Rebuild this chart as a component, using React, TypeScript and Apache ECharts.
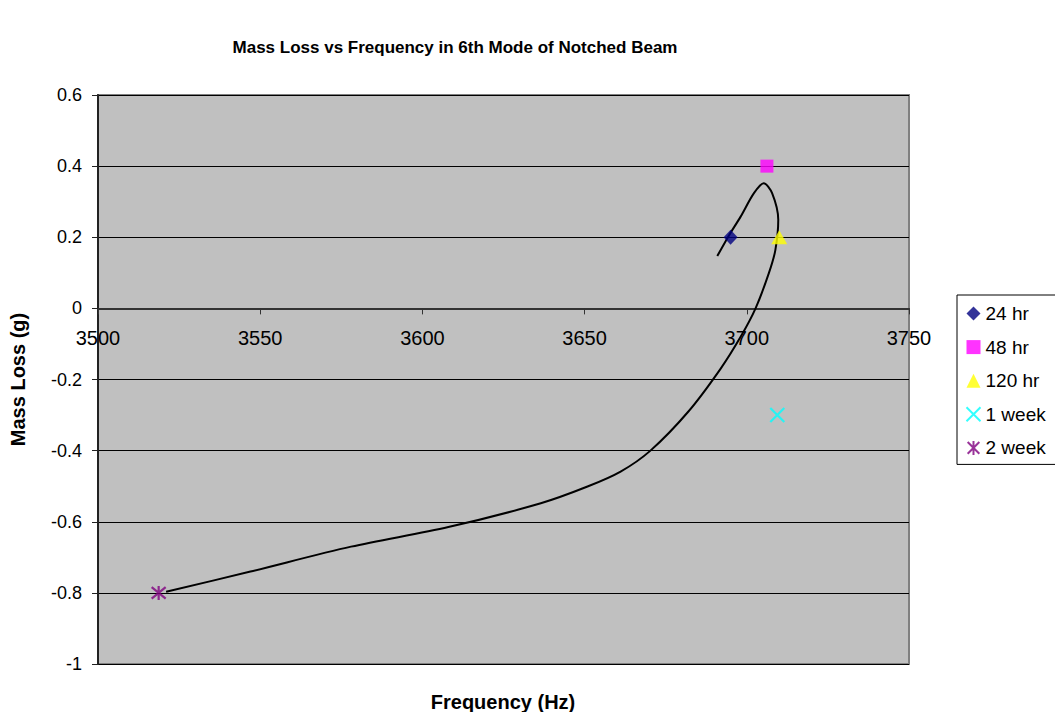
import React, { useEffect, useRef } from "react";
import * as echarts from "echarts";

const seriesNames = ["24 hr", "48 hr", "120 hr", "1 week", "2 week"];
const frequencies = [3695, 3706.2, 3710, 3709.4, 3518.7];
const massLoss = [0.2, 0.4, 0.2, -0.3, -0.8];
const colors = ["#000080", "#FF00FF", "#FFFF00", "#00FFFF", "#800080"];

// Smoothed fitted curve
const curveX = [3690.9, 3694.5, 3698.1, 3702.2, 3705.2, 3707.8, 3709.7, 3708.8, 3706.8, 3702.7, 3698.1, 3691.9, 3682, 3670.3, 3661.1, 3650.9, 3636.5, 3608, 3578, 3547, 3521];
const curveY = [0.147, 0.205, 0.258, 0.324, 0.352, 0.324, 0.249, 0.164, 0.099, 0.0, -0.08, -0.17, -0.29, -0.4, -0.459, -0.501, -0.548, -0.615, -0.67, -0.74, -0.797];

const xTicks = { min: 3500, max: 3750, interval: 50 };
const yTicks = { min: -1, max: 0.6, interval: 0.2 };

const symbols = [
  { symbol: "diamond", size: [14, 15], stroke: false },
  { symbol: "rect", size: 13, stroke: false },
  { symbol: "triangle", size: [16, 14], stroke: false },
  { symbol: "path://M0,0L10,10M10,0L0,10", size: 14, stroke: true },
  { symbol: "path://M0,0L10,10M10,0L0,10M5,-1L5,11", size: 14, stroke: true },
];

export default function App() {
  const ref = useRef<HTMLDivElement>(null);
  useEffect(() => {
    if (!ref.current) return;
    const chart = echarts.init(ref.current, null, { renderer: "svg" });
    const font = "Arial, 'Liberation Sans', sans-serif";
    const gridTop = 95;
    const gridHeight = 569;
    const zeroOffset = -(gridHeight * (0 - yTicks.min)) / (yTicks.max - yTicks.min);
    const scatterSeries = seriesNames.map((name, i) => ({
      name,
      type: "scatter",
      data: [[frequencies[i], massLoss[i]]],
      symbol: symbols[i].symbol,
      symbolSize: symbols[i].size,
      itemStyle: symbols[i].stroke
        ? { color: "none", borderColor: colors[i], borderWidth: 2.2 }
        : { color: colors[i] },
      z: 5,
    }));
    const curveData = curveX.map((x, i) => [x, curveY[i]]);
    const fmt = (v: number) => String(v);
    chart.setOption({
      animation: false,
      textStyle: { fontFamily: font },
      grid: {
        left: 97,
        top: gridTop,
        width: 812,
        height: gridHeight,
        show: true,
        backgroundColor: "#C0C0C0",
        borderColor: "#808080",
        borderWidth: 2,
      },
      graphic: [
        {
          type: "text",
          x: 455,
          y: 47,
          style: {
            text: "Mass Loss vs Frequency in 6th Mode of Notched Beam",
            font: `bold 17px ${font}`,
            fill: "#000",
            textAlign: "center",
            textVerticalAlign: "middle",
          },
        },
        {
          type: "text",
          x: 503,
          y: 702,
          style: {
            text: "Frequency (Hz)",
            font: `bold 20px ${font}`,
            fill: "#000",
            textAlign: "center",
            textVerticalAlign: "middle",
          },
        },
      ],
      legend: {
        orient: "vertical",
        left: 957,
        top: 295,
        data: seriesNames,
        backgroundColor: "#fff",
        borderColor: "#000",
        borderWidth: 1,
        borderRadius: 0,
        padding: [9, 25, 7, 7],
        itemWidth: 14,
        itemHeight: 14,
        itemGap: 14.6,
        itemTextGap: 5,
        textStyle: { fontSize: 19, color: "#000", fontFamily: font, lineHeight: 19 },
      },
      xAxis: [
        {
          type: "value",
          min: xTicks.min,
          max: xTicks.max,
          interval: xTicks.interval,
          axisLine: { onZero: true, lineStyle: { color: "#333", width: 2 } },
          axisTick: { show: true, length: 6, lineStyle: { color: "#333" } },
          axisLabel: { show: false },
          splitLine: { show: false },
        },
        {
          type: "value",
          position: "bottom",
          offset: zeroOffset,
          min: xTicks.min,
          max: xTicks.max,
          interval: xTicks.interval,
          axisLine: { show: false, onZero: false },
          axisTick: { show: false },
          axisLabel: { fontSize: 20, color: "#000", margin: 20, formatter: fmt },
          splitLine: { show: false },
        },
      ],
      yAxis: {
        type: "value",
        min: yTicks.min,
        max: yTicks.max,
        interval: yTicks.interval,
        name: "Mass Loss (g)",
        nameLocation: "middle",
        nameGap: 70,
        nameTextStyle: { fontSize: 20, fontWeight: "bold", color: "#000" },
        axisLine: { show: true, lineStyle: { color: "#222", width: 2 } },
        axisTick: { show: true, length: 6, lineStyle: { color: "#222" } },
        axisLabel: { fontSize: 18, color: "#000", margin: 16 },
        splitLine: { show: true, lineStyle: { color: "#000", width: 1 } },
      },
      series: [
        {
          name: "curve",
          type: "line",
          data: curveData,
          showSymbol: false,
          symbol: "none",
          smooth: 0.3,
          lineStyle: { color: "#000", width: 2 },
          z: 3,
        },
        ...scatterSeries,
      ],
    });
    return () => chart.dispose();
  }, []);
  return <div ref={ref} style={{ width: 1055, height: 712, position: "absolute", left: 0, top: 0 }} />;
}
